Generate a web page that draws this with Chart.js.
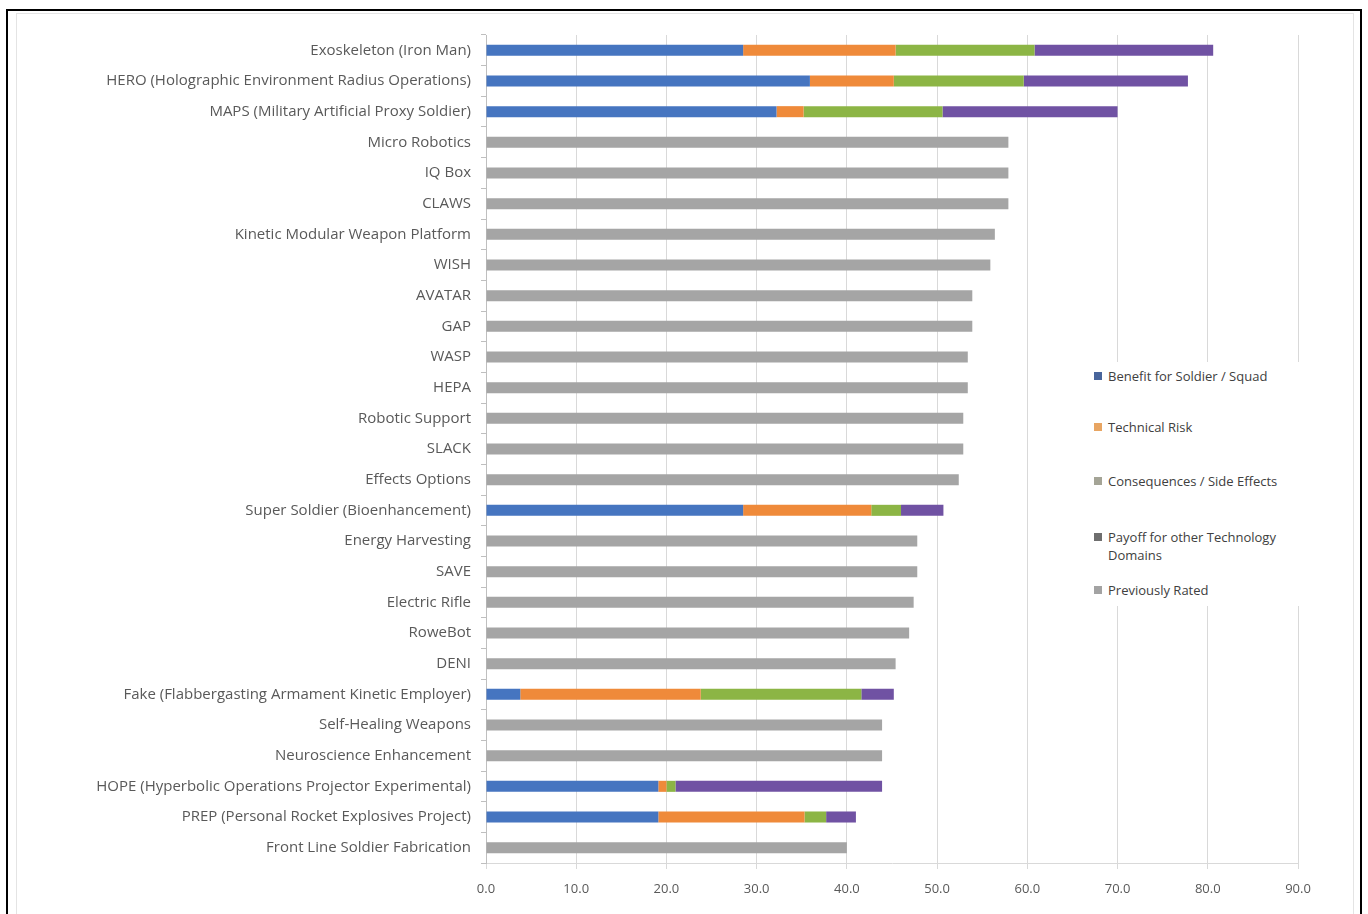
<!DOCTYPE html>
<html>
<head>
<meta charset="utf-8">
<title>Technology ratings</title>
<script src="https://cdn.jsdelivr.net/npm/chart.js@4.4.1/dist/chart.umd.min.js"></script>
<style>
  html, body { margin: 0; padding: 0; background: #fff; }
  body { width: 1368px; height: 914px; position: relative; overflow: hidden; font-family: "Open Sans", sans-serif; }
  #frame { position: absolute; left: 6px; top: 9px; width: 1352px; height: 1000px; border: 2px solid #000; border-bottom: none; }
  #inner { position: absolute; left: 16px; top: 13px; width: 1336px; height: 1000px; border: 1px solid #e4e4e4; }
  #wrap { position: absolute; left: 0; top: 0; width: 1368px; height: 914px; }
  #legend { position: absolute; left: 1082px; top: 362px; width: 225px; height: 244px; background: #fff; font-size: 13px; color: #404040; }
  #legend .item { position: absolute; left: 12px; padding-left: 14px; line-height: 18px; }
  #legend .sw { position: absolute; left: 0; top: 5px; width: 8px; height: 8px; }
</style>
</head>
<body>
<div id="frame"></div>
<div id="inner"></div>
<div id="wrap"><canvas id="grafico" width="1368" height="914"></canvas></div>
<div id="legend"></div>
<script>
/* ============================
      DADOS
============================ */
const categorias = [
  "Exoskeleton (Iron Man)",
  "HERO (Holographic Environment Radius Operations)",
  "MAPS (Military Artificial Proxy Soldier)",
  "Micro Robotics",
  "IQ Box",
  "CLAWS",
  "Kinetic Modular Weapon Platform",
  "WISH",
  "AVATAR",
  "GAP",
  "WASP",
  "HEPA",
  "Robotic Support",
  "SLACK",
  "Effects Options",
  "Super Soldier (Bioenhancement)",
  "Energy Harvesting",
  "SAVE",
  "Electric Rifle",
  "RoweBot",
  "DENI",
  "Fake (Flabbergasting Armament Kinetic Employer)",
  "Self-Healing Weapons",
  "Neuroscience Enhancement",
  "HOPE (Hyperbolic Operations Projector Experimental)",
  "PREP (Personal Rocket Explosives Project)",
  "Front Line Soldier Fabrication"
];

const beneficio     = [28.5, 35.9, 32.2, null, null, null, null, null, null, null, null, null, null, null, null, 28.5, null, null, null, null, null, 3.8, null, null, 19.1, 19.1, null];
const riscoTecnico  = [16.9, 9.3, 3.0, null, null, null, null, null, null, null, null, null, null, null, null, 14.2, null, null, null, null, null, 20.0, null, null, 0.9, 16.2, null];
const consequencias = [15.4, 14.4, 15.4, null, null, null, null, null, null, null, null, null, null, null, null, 3.3, null, null, null, null, null, 17.8, null, null, 1.0, 2.4, null];
const payoff        = [19.8, 18.2, 19.4, null, null, null, null, null, null, null, null, null, null, null, null, 4.7, null, null, null, null, null, 3.6, null, null, 22.9, 3.3, null];
const avaliadoAntes = [null, null, null, 57.9, 57.9, 57.9, 56.4, 55.9, 53.9, 53.9, 53.4, 53.4, 52.9, 52.9, 52.4, null, 47.8, 47.8, 47.4, 46.9, 45.4, null, 43.9, 43.9, null, null, 40.0];

const ticksX = { min: 0, max: 90, passo: 10 };

const series = [
  { nome: "Benefit for Soldier / Squad", dados: beneficio, cor: "#4675c0", marca: "#48659c" },
  { nome: "Technical Risk", dados: riscoTecnico, cor: "#ef8a3a", marca: "#e8a562" },
  { nome: "Consequences / Side Effects", dados: consequencias, cor: "#8cb545", marca: "#a4a496" },
  { nome: "Payoff for other Technology Domains", dados: payoff, cor: "#7052a3", marca: "#6e6e6e" },
  { nome: "Previously Rated", dados: avaliadoAntes, cor: "#a5a5a5", marca: "#a3a3a3" }
];

/* ============================
      GRÁFICO
============================ */
const fonte = { family: "'Open Sans', sans-serif", size: 13 };
const fonteY = { family: "'Open Sans', sans-serif", size: 15 };

new Chart(document.getElementById("grafico"), {
  type: "bar",
  data: {
    labels: categorias,
    datasets: series.map(s => ({
      label: s.nome,
      data: s.dados,
      backgroundColor: s.cor,
      borderWidth: 0,
      barPercentage: 0.72,
      categoryPercentage: 0.5
    }))
  },
  options: {
    indexAxis: "y",
    responsive: false,
    animation: false,
    devicePixelRatio: 1,
    layout: { padding: { left: 20, right: 70, top: 35, bottom: 0 } },
    plugins: { legend: { display: false }, tooltip: { enabled: false } },
    scales: {
      x: {
        stacked: true,
        min: ticksX.min,
        max: ticksX.max,
        ticks: {
          stepSize: ticksX.passo,
          color: "#595959",
          font: fonte,
          padding: 12,
          callback: v => Number(v).toFixed(1)
        },
        grid: { color: "#d9d9d9", tickLength: 6, drawTicks: true },
        border: { color: "#d9d9d9" },
        afterFit: s => { s.height = 51; }
      },
      y: {
        stacked: true,
        ticks: { color: "#595959", font: fonteY, padding: 10, autoSkip: false },
        grid: { display: true, drawOnChartArea: false, tickLength: 5, color: "#bfbfbf" },
        border: { color: "#bfbfbf" },
        afterFit: s => { s.width = 466; }
      }
    }
  }
});

/* ============================
      LEGENDA
============================ */
const legenda = document.getElementById("legend");
const topos = [5, 56, 110, 166, 219];
series.forEach((s, i) => {
  const item = document.createElement("div");
  item.className = "item";
  item.style.top = topos[i] + "px";
  if (i === 3) item.innerHTML = "Payoff for other Technology<br>Domains";
  else item.textContent = s.nome;
  const sw = document.createElement("span");
  sw.className = "sw";
  sw.style.background = s.marca;
  item.appendChild(sw);
  legenda.appendChild(item);
});
</script>
</body>
</html>
